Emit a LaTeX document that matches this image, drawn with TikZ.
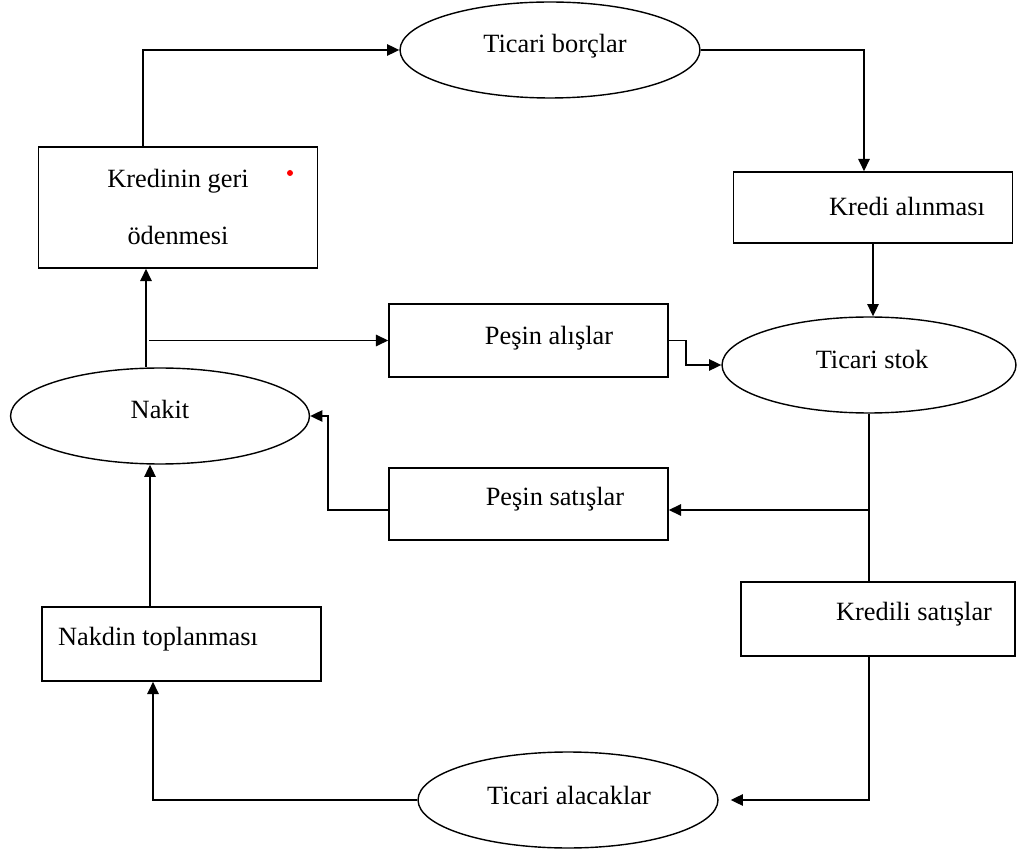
\documentclass[tikz,border=0pt]{standalone}
\usepackage{fontspec}
\setmainfont{Liberation Serif}
\usetikzlibrary{shapes.geometric,arrows.meta}

\tikzset{
  box/.style={draw, line width=0.9pt, minimum width=5.58cm, inner sep=0pt},
  oval/.style={draw, ellipse, line width=0.8pt, minimum width=6cm, minimum height=1.92cm, inner sep=0pt},
  lbl/.style={font=\fontsize{15}{18}\selectfont, inner sep=0pt},
  arr/.style={line width=0.9pt, -{Triangle[length=7pt,width=6.5pt]}},
  ln/.style={line width=0.9pt}
}

\begin{document}
\begin{tikzpicture}[x=0.02cm, y=-0.02cm]
    \useasboundingbox (0,0) rectangle (1017,854);

    % Ovals
    \node[oval] (borc) at (550,50) {};
    \node[oval, minimum width=5.88cm] (stok) at (869,365) {};
    \node[oval, minimum width=5.98cm] (nakit) at (160,416) {};
    \node[oval] (alacak) at (568,800) {};

    % Boxes
    \node[box, minimum height=2.42cm] (geri) at (178,207.5) {};
    \node[box, minimum height=1.42cm] (kredi) at (873,207.5) {};
    \node[box, minimum height=1.46cm] (pesinal) at (528.5,340.5) {};
    \node[box, minimum height=1.44cm] (pesinsat) at (528.5,504) {};
    \node[box, minimum width=5.48cm, minimum height=1.48cm] (kredisat) at (878,619) {};
    \node[box, minimum height=1.48cm] (toplama) at (181.5,644) {};

    % Labels
    \node[lbl] (borc-t) at (555,46) {Ticari borçlar};
    \node[lbl] (stok-t) at (872,359) {Ticari stok};
    \node[lbl] (nakit-t) at (160,409) {Nakit};
    \node[lbl] (alacak-t) at (569,795) {Ticari alacaklar};
    \node[lbl, align=center, font=\fontsize{15}{32}\selectfont] (geri-t) at (178,207) {Kredinin geri\\ödenmesi};
    \node[lbl] (kredi-t) at (907,206) {Kredi alınması};
    \node[lbl] (pesinal-t) at (549,338) {Peşin alışlar};
    \node[lbl] (pesinsat-t) at (555,499) {Peşin satışlar};
    \node[lbl] (kredisat-t) at (914,614) {Kredili satışlar};
    \node[lbl] (toplama-t) at (158,639) {Nakdin toplanması};

    % Red dot
    \fill[red] (290,173) circle (0.06cm);

    % Connectors
    \draw[arr] ([xshift=-0.7cm]geri.north) |- (borc.west);
    \draw[arr] (borc.east) -| ([xshift=-0.18cm]kredi.north);
    \draw[arr] (kredi.south) -- (kredi.south |- stok.north);
    \draw[arr] ([xshift=-0.28cm]nakit.north) -- ([xshift=-0.28cm]nakit.north |- geri.south);
    \draw[arr] ([xshift=-4.78cm]pesinal.west) -- (pesinal.west);
    \draw[arr] (pesinal.east) -- ++(17,0) |- (stok.west);
    \draw[ln] (stok.south) -- (stok.south |- kredisat.north);
    \draw[arr] ([yshift=-0.12cm]stok.south |- pesinsat.east) -- ([yshift=-0.12cm]pesinsat.east);
    \draw[arr] ([yshift=-0.12cm]pesinsat.west) -- ++(-60,0) |- (nakit.east);
    \draw[arr] (stok.south |- kredisat.south) |- ([xshift=0.24cm]alacak.east);
    \draw[arr] (alacak.west) -| ([xshift=-0.57cm]toplama.south);
    \draw[arr] ([xshift=-0.63cm]toplama.north) -- ([xshift=-0.63cm]toplama.north |- nakit.south);
\end{tikzpicture}
\end{document}
